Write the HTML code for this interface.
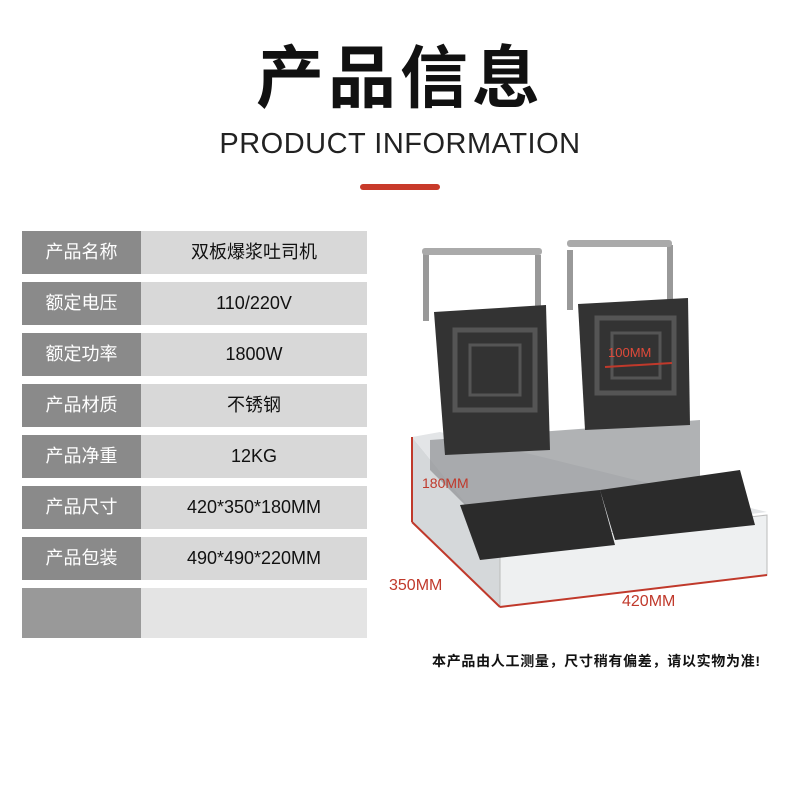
<!DOCTYPE html>
<html><head><meta charset="utf-8"><style>
body{margin:0;background:#fff;width:800px;height:800px;position:relative;overflow:hidden;font-family:"Liberation Sans","Noto Sans CJK SC",sans-serif}
.t1{position:absolute;left:0;width:800px;top:34px;text-align:center;font-size:68px;font-weight:bold;color:#111;letter-spacing:4px;line-height:90px}
.t2{position:absolute;left:0;width:800px;top:128px;text-align:center;font-size:29px;color:#222;letter-spacing:0.5px}
.bar{position:absolute;left:360px;top:184px;width:80px;height:6px;background:#c83a2a;border-radius:3px}
.row{position:absolute;left:22px;width:345px;height:43px}
.row .l{position:absolute;left:0;top:0;width:119px;height:43px;background:#8a8a8a;color:#fff;font-size:18px;line-height:43px;text-align:center}
.row .v{position:absolute;left:119px;top:0;width:226px;height:43px;background:#d8d8d8;color:#111;font-size:18px;line-height:43px;text-align:center}
.note{position:absolute;left:432px;top:651px;font-size:14px;font-weight:bold;color:#111;white-space:nowrap;letter-spacing:0.7px}
.dim{position:absolute;color:#c0392b;font-size:16px}
</style></head><body>
<div class="t1">产品信息</div>
<div class="t2">PRODUCT INFORMATION</div>
<div class="bar"></div>
<div class="row" style="top:231px"><div class="l">产品名称</div><div class="v">双板爆浆吐司机</div></div>
<div class="row" style="top:282px"><div class="l">额定电压</div><div class="v">110/220V</div></div>
<div class="row" style="top:333px"><div class="l">额定功率</div><div class="v">1800W</div></div>
<div class="row" style="top:384px"><div class="l">产品材质</div><div class="v">不锈钢</div></div>
<div class="row" style="top:435px"><div class="l">产品净重</div><div class="v">12KG</div></div>
<div class="row" style="top:486px"><div class="l">产品尺寸</div><div class="v">420*350*180MM</div></div>
<div class="row" style="top:537px"><div class="l">产品包装</div><div class="v">490*490*220MM</div></div>
<div class="row" style="top:588px;height:50px"><div class="l" style="height:50px;background:#999"></div><div class="v" style="height:50px;background:#e4e4e4"></div></div>
<svg style="position:absolute;left:0;top:0" width="800" height="800">
<polygon points="412,437 500,545 500,607 412,522" fill="#d5d8da"/>
<polygon points="412,437 440,432 767,512 500,545" fill="#e3e5e7"/>
<polygon points="500,545 767,515 767,575 500,607" fill="#eef0f1" stroke="#bbb"/>
<line x1="412" y1="437" x2="412" y2="522" stroke="#c0392b" stroke-width="2"/>
<line x1="412" y1="522" x2="500" y2="607" stroke="#c0392b" stroke-width="2"/>
<line x1="500" y1="607" x2="767" y2="575" stroke="#c0392b" stroke-width="2"/>
<polygon points="430,440 700,420 700,480 600,495 470,510 430,470" fill="#8e9194" opacity="0.7"/>
<polygon points="460,505 600,490 615,545 480,560" fill="#2b2b2b"/>
<polygon points="600,490 740,470 755,525 615,540" fill="#2b2b2b"/>
<rect x="423" y="251" width="6" height="70" fill="#999"/><rect x="535" y="255" width="6" height="60" fill="#999"/>
<rect x="422" y="248" width="120" height="7" rx="3" fill="#aaa"/>
<rect x="567" y="250" width="6" height="60" fill="#999"/><rect x="667" y="245" width="6" height="60" fill="#999"/>
<rect x="567" y="240" width="105" height="7" rx="3" fill="#aaa"/>
<polygon points="434,312 546,305 550,450 445,455" fill="#333"/>
<rect x="455" y="330" width="80" height="80" fill="none" stroke="#555" stroke-width="5"/>
<rect x="470" y="345" width="50" height="50" fill="none" stroke="#555" stroke-width="3"/>
<polygon points="578,304 688,298 690,425 585,430" fill="#333"/>
<rect x="597" y="318" width="77" height="75" fill="none" stroke="#555" stroke-width="5"/>
<rect x="612" y="333" width="48" height="45" fill="none" stroke="#555" stroke-width="3"/>
<line x1="605" y1="367" x2="672" y2="363" stroke="#c0392b" stroke-width="2"/>
</svg>
<div class="dim" style="left:608px;top:345px;font-size:13px;color:#e04a3a">100MM</div>
<div class="dim" style="left:422px;top:475px;font-size:14px">180MM</div>
<div class="dim" style="left:389px;top:577px">350MM</div>
<div class="dim" style="left:622px;top:593px">420MM</div>
<div class="note">本产品由人工测量，尺寸稍有偏差，请以实物为准!</div>
</body></html>
